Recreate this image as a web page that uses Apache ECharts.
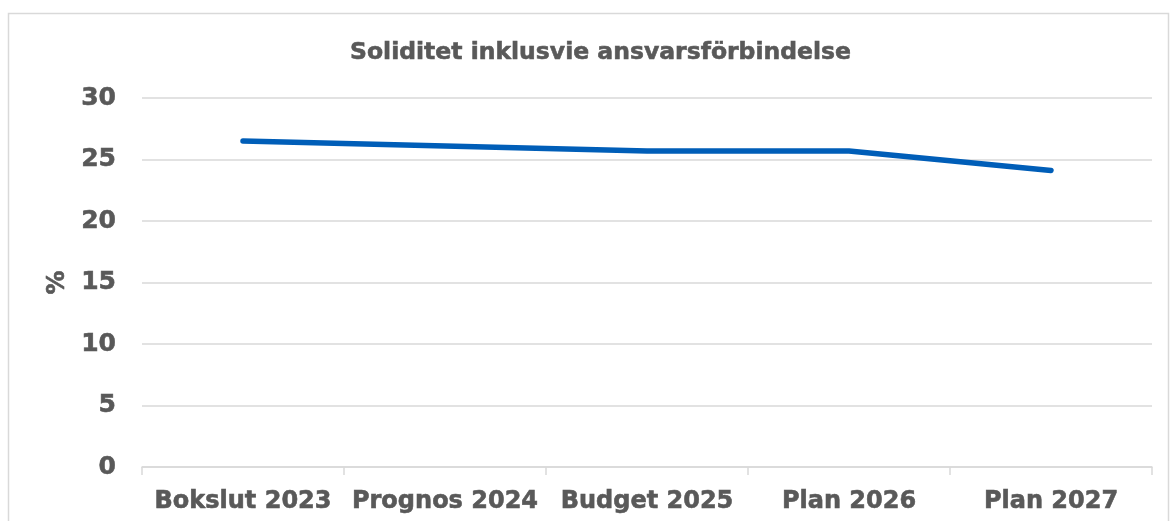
<!DOCTYPE html>
<html>
<head>
<meta charset="utf-8">
<style>
html,body{margin:0;padding:0;background:#fff;}
#c{width:1170px;height:521px;}
</style>
<script src="https://cdn.jsdelivr.net/npm/echarts@6/dist/echarts.min.js"></script>
</head>
<body>
<div id="c"></div>
<script>
const categories = ['Bokslut 2023', 'Prognos 2024', 'Budget 2025', 'Plan 2026', 'Plan 2027'];
const values = [26.5, 26.1, 25.7, 25.7, 24.1];
const title = 'Soliditet inklusvie ansvarsförbindelse';
const yName = '%';

const font = '"DejaVu Sans", Verdana, sans-serif';
const txt = '#595959';
const thick = { textBorderColor: txt, textBorderWidth: 0.6 };
const chart = echarts.init(document.getElementById('c'));
chart.setOption({
  animation: false,
  title: {
    text: title, left: 345, top: 36,
    textStyle: Object.assign({ fontFamily: font, fontSize: 23.5, fontWeight: 'bold', color: txt }, thick)
  },
  graphic: [{
    type: 'rect', silent: true,
    shape: { x: 8.5, y: 13.5, width: 1160, height: 600 },
    style: { fill: 'none', stroke: '#d9d9d9', lineWidth: 1.5 }
  }],
  grid: { left: 142, right: 18, top: 98, bottom: 54 },
  xAxis: {
    type: 'category', data: categories, boundaryGap: true,
    axisLine: { lineStyle: { color: '#d9d9d9', width: 1.5 } },
    axisTick: { show: true, length: 8, lineStyle: { color: '#d9d9d9', width: 1.5 } },
    axisLabel: Object.assign({ interval: 0, fontFamily: font, fontSize: 24, fontWeight: 'bold', color: txt, margin: 23 }, thick)
  },
  yAxis: {
    type: 'value', min: 0, max: 30, interval: 5,
    name: yName, nameLocation: 'middle', nameGap: 66, nameRotate: 90,
    nameTextStyle: Object.assign({ fontFamily: font, fontSize: 24, fontWeight: 'bold', color: txt }, thick),
    axisLine: { show: false }, axisTick: { show: false },
    axisLabel: Object.assign({ fontFamily: font, fontSize: 25, fontWeight: 'bold', color: txt, margin: 26 }, thick),
    splitLine: { lineStyle: { color: '#d9d9d9', width: 1.5 } }
  },
  series: [{
    type: 'line', data: values, symbol: 'none',
    lineStyle: { color: '#005EB8', width: 5.5, cap: 'round', join: 'round' }
  }]
});
</script>
</body>
</html>
